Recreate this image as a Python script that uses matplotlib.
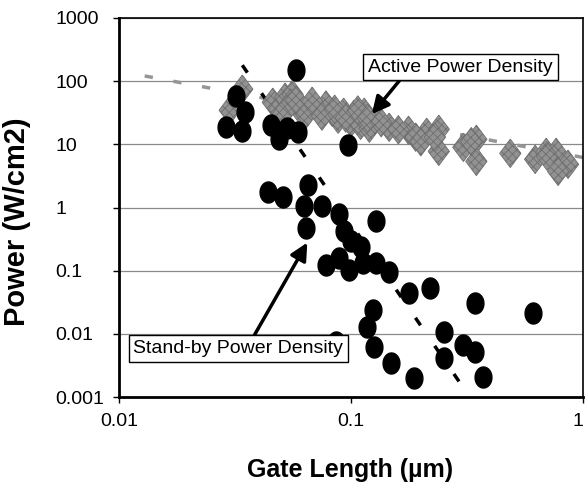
import numpy as np
import matplotlib
matplotlib.use('Agg')
from matplotlib import pyplot as plt

# Active power density (grey diamonds)
active_x = [0.030, 0.034, 0.046, 0.049, 0.052, 0.056, 0.060, 0.066, 0.073, 0.083,
            0.093, 0.103, 0.114, 0.126, 0.146, 0.177, 0.212, 0.239, 0.239, 0.305,
            0.347, 0.347, 0.486, 0.622, 0.694, 0.766, 0.862, 0.781, 0.055, 0.064,
            0.078, 0.088, 0.100, 0.110, 0.120, 0.190, 0.200, 0.050, 0.058, 0.068,
            0.075, 0.085, 0.095, 0.107, 0.118, 0.135, 0.160, 0.230, 0.330, 0.700]
active_y = [34.7, 74.6, 46.4, 36.0, 55.7, 62.0, 36.0, 38.7, 33.4, 32.2,
            32.2, 29.9, 32.2, 23.2, 18.6, 16.7, 15.5, 17.3, 7.74, 8.96,
            12.0, 5.37, 7.20, 5.78, 7.46, 7.46, 4.82, 3.73, 45.0, 30.0,
            42.0, 25.0, 22.0, 20.0, 18.0, 13.0, 11.0, 28.0, 50.0, 48.0,
            28.0, 36.0, 26.0, 35.0, 26.0, 22.0, 17.0, 13.0, 11.0, 6.5]

# Stand-by power density (black circles)
standby_x = [0.058, 0.032, 0.035, 0.029, 0.034, 0.045, 0.049, 0.053, 0.059, 0.097,
             0.044, 0.051, 0.065, 0.063, 0.064, 0.075, 0.089, 0.093, 0.100, 0.110,
             0.128, 0.078, 0.089, 0.098, 0.113, 0.128, 0.146, 0.177, 0.220, 0.124,
             0.117, 0.126, 0.149, 0.186, 0.251, 0.251, 0.305, 0.344, 0.372, 0.344,
             0.610, 0.086]
standby_y = [150, 58, 33, 18.6, 16.1, 20, 12, 17.9, 15.5, 9.6,
             1.73, 1.44, 2.23, 1.04, 0.48, 1.04, 0.80, 0.42, 0.29, 0.24,
             0.62, 0.125, 0.161, 0.104, 0.134, 0.134, 0.097, 0.045, 0.054, 0.024,
             0.0129, 0.0062, 0.0035, 0.0020, 0.0108, 0.0042, 0.0067, 0.0052, 0.0021, 0.031,
             0.0215, 0.0075]

# power-law trend lines (end points)
active_trend_x = [0.0129, 1.0]
active_trend_y = [121, 6.2]
standby_trend_x = [0.034, 0.35]
standby_trend_y = [179, 0.00067]

y_ticks = [0.001, 0.01, 0.1, 1, 10, 100, 1000]
y_tick_labels = ['0.001', '0.01', '0.1', '1', '10', '100', '1000']
x_ticks = [0.01, 0.1, 1]
x_tick_labels = ['0.01', '0.1', '1']

plt.rcParams['font.family'] = ['Liberation Sans', 'DejaVu Sans']
plt.rcParams['hatch.color'] = '#555555'
plt.rcParams['hatch.linewidth'] = 0.6

theta = np.linspace(0, 2 * np.pi, 41)
ellipse = list(zip(0.8 * np.cos(theta), np.sin(theta)))
diamond = [(0, 1), (0.75, 0), (0, -1), (-0.75, 0), (0, 1)]

fig = plt.figure(figsize=(5.85, 4.88), dpi=100)
ax = fig.add_axes([119 / 585, 1 - 397 / 488, 464 / 585, 379 / 488])

ax.set_xscale('log')
ax.set_yscale('log')
ax.set_xlim(0.01, 1)
ax.set_ylim(0.001, 1000)

for y in y_ticks:
    ax.axhline(y, color='#8a8a8a', lw=0.9, zorder=1)

ax.plot(active_trend_x, active_trend_y, color='#959595', lw=2.5,
        dashes=(2.4, 6.0), zorder=2)
ax.plot(standby_trend_x, standby_trend_y, color='black', lw=2.5,
        dashes=(2.6, 7.2), zorder=2)

ax.scatter(active_x, active_y, marker=diamond, s=420, facecolor='#929292',
           edgecolor='#6e6e6e', linewidth=0.6, hatch='xxxx', zorder=3)
ax.scatter(standby_x, standby_y, marker=ellipse, s=230, color='black', zorder=4)

ax.set_xticks(x_ticks)
ax.set_xticklabels(x_tick_labels)
ax.set_yticks(y_ticks)
ax.set_yticklabels(y_tick_labels)
ax.minorticks_off()
ax.tick_params(axis='both', labelsize=14, length=4.5, width=1, direction='out', color='black')
ax.tick_params(axis='x', pad=7)
ax.tick_params(axis='y', pad=41.5)
for lbl in ax.get_yticklabels():
    lbl.set_horizontalalignment('left')
ax.get_xticklabels()[-1].set_horizontalalignment('right')
for side in ['left', 'bottom']:
    ax.spines[side].set_linewidth(2)
for side in ['top', 'right']:
    ax.spines[side].set_linewidth(1.2)

ax.set_xlabel('Gate Length (µm)', fontsize=18, fontweight='bold')
ax.xaxis.set_label_coords(0.498, -0.16)
ax.set_ylabel('Power (W/cm2)', fontsize=21, fontweight='bold')
ax.yaxis.set_label_coords(-0.19, 0.462)

box = dict(boxstyle='square,pad=0.25', fc='white', ec='black', lw=1)
arrow = dict(arrowstyle='-|>', lw=2.5, color='black', mutation_scale=26,
             shrinkA=0, shrinkB=0)
ax.annotate('Active Power Density', xy=(0.123, 30), xytext=(0.296, 167),
            fontsize=14, ha='center', va='center', bbox=box, zorder=6,
            arrowprops=dict(arrow, relpos=(0.2, 0.1)))
ax.annotate('Stand-by Power Density', xy=(0.0648, 0.278), xytext=(0.0327, 0.0058),
            fontsize=14, ha='center', va='center', bbox=box, zorder=6,
            arrowprops=dict(arrow, relpos=(0.56, 0.95)))

fig.savefig('out.png', dpi=100)
